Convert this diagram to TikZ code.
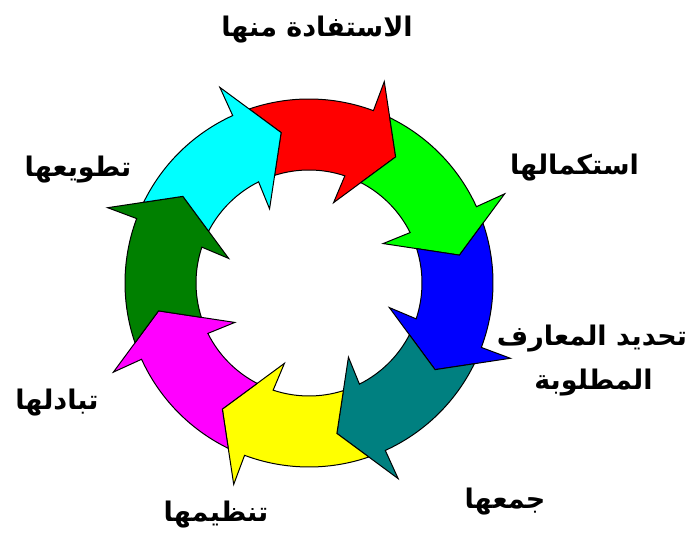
\documentclass[tikz,border=0pt]{standalone}
\usepackage{fontspec}
\TeXXeTstate=1
\newfontfamily\arabicfont[Script=Arabic]{DejaVu Sans}
\definecolor{cRed}{RGB}{255,0,0}
\definecolor{cLime}{RGB}{0,255,0}
\definecolor{cBlue}{RGB}{0,0,255}
\definecolor{cTeal}{RGB}{0,128,128}
\definecolor{cYellow}{RGB}{255,255,0}
\definecolor{cMagenta}{RGB}{255,0,255}
\definecolor{cDkGreen}{RGB}{0,128,0}
\definecolor{cCyan}{RGB}{0,255,255}
\begin{document}
\begin{tikzpicture}[x=1pt,y=1pt,
  seg/.style={draw=black, line width=1pt, line join=miter},
  lbl/.style={font=\arabicfont\bfseries\fontsize{27}{32}\selectfont, inner sep=0pt, align=center}]
\useasboundingbox (0,0) rectangle (697,535);
\begin{scope}[shift={(309,252)}]
\foreach \c [count=\k from 0] in {cRed,cLime,cBlue,cTeal,cYellow,cMagenta,cDkGreen,cCyan}{
  \pgfmathsetmacro\o{-45*\k}
  \draw[seg, fill=\c] ({100.5+\o}:153pt) -- ({108.97+\o}:184pt)
    arc[start angle={108.97+\o}, end angle={69.5+\o}, radius=184pt]
    -- ({69.5+\o}:215pt) -- ({55.5+\o}:153pt) -- ({73+\o}:84pt) -- ({71.5+\o}:113pt)
    arc[start angle={71.5+\o}, end angle={107.71+\o}, radius=113pt] -- cycle;
}
\end{scope}
\node[lbl] (l1) at (317,505) {\beginR الاستفادة منها\endR};
\node[lbl] (l2) at (574.5,367) {\beginR استكمالها\endR};
\node[lbl] (l3a) at (592,196) {\beginR تحديد المعارف\endR};
\node[lbl] (l3b) at (593.5,152) {\beginR المطلوبة\endR};
\node[lbl] (l4) at (505,33) {\beginR جمعها\endR};
\node[lbl] (l5) at (216,20) {\beginR تنظيمها\endR};
\node[lbl] (l6) at (57,132) {\beginR تبادلها\endR};
\node[lbl] (l7) at (78,365) {\beginR تطويعها\endR};
\end{tikzpicture}
\end{document}
